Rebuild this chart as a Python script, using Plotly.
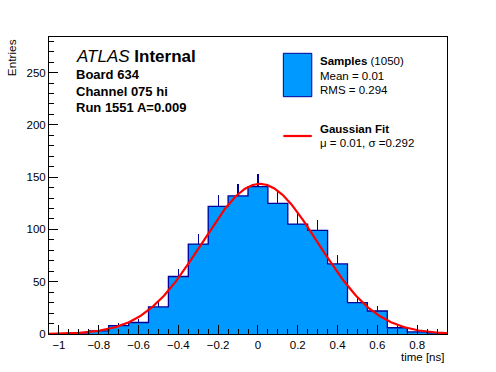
import numpy as np
import plotly.graph_objects as go

# ---------------- data ----------------
bin_centers = [-1.0, -0.9, -0.8, -0.7, -0.6, -0.5, -0.4, -0.3, -0.2, -0.1,
               0.0, 0.1, 0.2, 0.3, 0.4, 0.5, 0.6, 0.7, 0.8, 0.9]
counts = [0, 0, 3, 8, 11, 26, 55, 86, 122, 132,
          141, 125, 105, 99, 67, 30, 22, 6, 2, 1]
bin_width = 0.1
x_range = [-1.05, 0.95]
y_range = [0, 284]
fit_mu = 0.01
fit_sigma = 0.292
fit_amp = 143.5
n_entries = 1050
mean_val = 0.01
rms_val = 0.294

info_lines = ["Board 634", "Channel 075 hi", "Run 1551 A=0.009"]

FILL = "#0099ff"
EDGE = "#000099"
FONT = "Liberation Sans, Arial, Helvetica, sans-serif"

W, H = 496, 372
L, R, T, B = 49.3, 446.7, 37.0, 334.0


def px(x):
    return (x - L) / (R - L)


def py(y):
    return (B - y) / (B - T)


counts_arr = np.array(counts, dtype=float)
edges = [c - bin_width / 2 for c in bin_centers] + [bin_centers[-1] + bin_width / 2]

fig = go.Figure()

# filled bars with upward error bars
fig.add_trace(go.Bar(
    x=bin_centers, y=counts, width=bin_width,
    marker=dict(color=FILL, line=dict(width=0)),
    error_y=dict(type="data", symmetric=False, array=np.sqrt(counts_arr),
                 arrayminus=np.zeros_like(counts_arr), width=0, thickness=1.2,
                 color=EDGE),
    showlegend=False, hoverinfo="skip",
))

# step outline
fig.add_trace(go.Scatter(
    x=edges, y=counts + [counts[-1]], mode="lines",
    line=dict(shape="hv", color=EDGE, width=1.3),
    showlegend=False, hoverinfo="skip",
))

# gaussian fit curve (from fit parameters)
xf = np.linspace(x_range[0], x_range[1], 300)
yf = fit_amp * np.exp(-0.5 * ((xf - fit_mu) / fit_sigma) ** 2)
fig.add_trace(go.Scatter(
    x=xf, y=yf, mode="lines", line=dict(color="#ff0000", width=2.2),
    showlegend=False, hoverinfo="skip",
))

axis_common = dict(
    showline=True, linecolor="black", linewidth=1, mirror=True,
    ticks="inside", tickcolor="black", ticklen=9, tickwidth=1,
    showgrid=False, zeroline=False,
    tickfont=dict(family=FONT, size=11.5, color="black"),
)

fig.update_xaxes(range=x_range, tick0=0, dtick=0.2,
                 minor=dict(ticks="inside", ticklen=5, dtick=0.05, tick0=0,
                            tickcolor="black", showgrid=False),
                 **axis_common)
fig.update_yaxes(range=y_range, tick0=0, dtick=50,
                 minor=dict(ticks="inside", ticklen=5, dtick=10, tick0=0,
                            tickcolor="black", showgrid=False),
                 **axis_common)

annotations = []


def add_text(text, x, baseline, size, anchor="left", angle=0):
    annotations.append(dict(
        text=text, xref="paper", yref="paper",
        x=px(x), y=py(baseline - 0.34 * size),
        xanchor=anchor, yanchor="middle", showarrow=False,
        textangle=angle,
        font=dict(family=FONT, size=size, color="black"),
    ))


add_text("<i>ATLAS</i> <b>Internal</b>", 74, 62, 17)
for i, line in enumerate(info_lines):
    add_text(f"<b>{line}</b>", 74, 79.3 + i * 16.5, 13)

# legend
add_text(f"<b>Samples</b> ({n_entries})", 317.5, 65, 11.5)
add_text(f"Mean = {mean_val:.2f}", 317.5, 79.5, 11.5)
add_text(f"RMS = {rms_val:.3f}", 317.5, 94, 11.5)
add_text("<b>Gaussian Fit</b>", 317.5, 132.5, 11.5)
add_text(f"μ = {fit_mu:.2f}, σ ={fit_sigma:.3f}", 317.5, 146.5, 11.5)

# axis titles
add_text("time [ns]", 446, 361, 11.5, anchor="right")
annotations.append(dict(
    text="Entries", xref="paper", yref="paper",
    x=px(12), y=py(37), xanchor="center", yanchor="top",
    textangle=-90, showarrow=False,
    font=dict(family=FONT, size=11.8, color="black"),
))

shapes = [
    dict(type="rect", xref="paper", yref="paper",
         x0=px(283.3), x1=px(311.7), y0=py(96.7), y1=py(53.3),
         fillcolor=FILL, line=dict(color=EDGE, width=1)),
    dict(type="line", xref="paper", yref="paper",
         x0=px(283.3), x1=px(311.7), y0=py(136), y1=py(136),
         line=dict(color="#ff0000", width=2.2)),
]

fig.update_layout(
    width=W, height=H,
    margin=dict(l=L, r=W - R, t=T, b=H - B, pad=0, autoexpand=False),
    paper_bgcolor="white", plot_bgcolor="white",
    bargap=0, showlegend=False,
    annotations=annotations, shapes=shapes,
    font=dict(family=FONT, color="black"),
)

fig.write_html(
    "out.html",
    config={"displayModeBar": False},
    post_script="document.body.style.margin='0';document.body.style.padding='0';",
)
